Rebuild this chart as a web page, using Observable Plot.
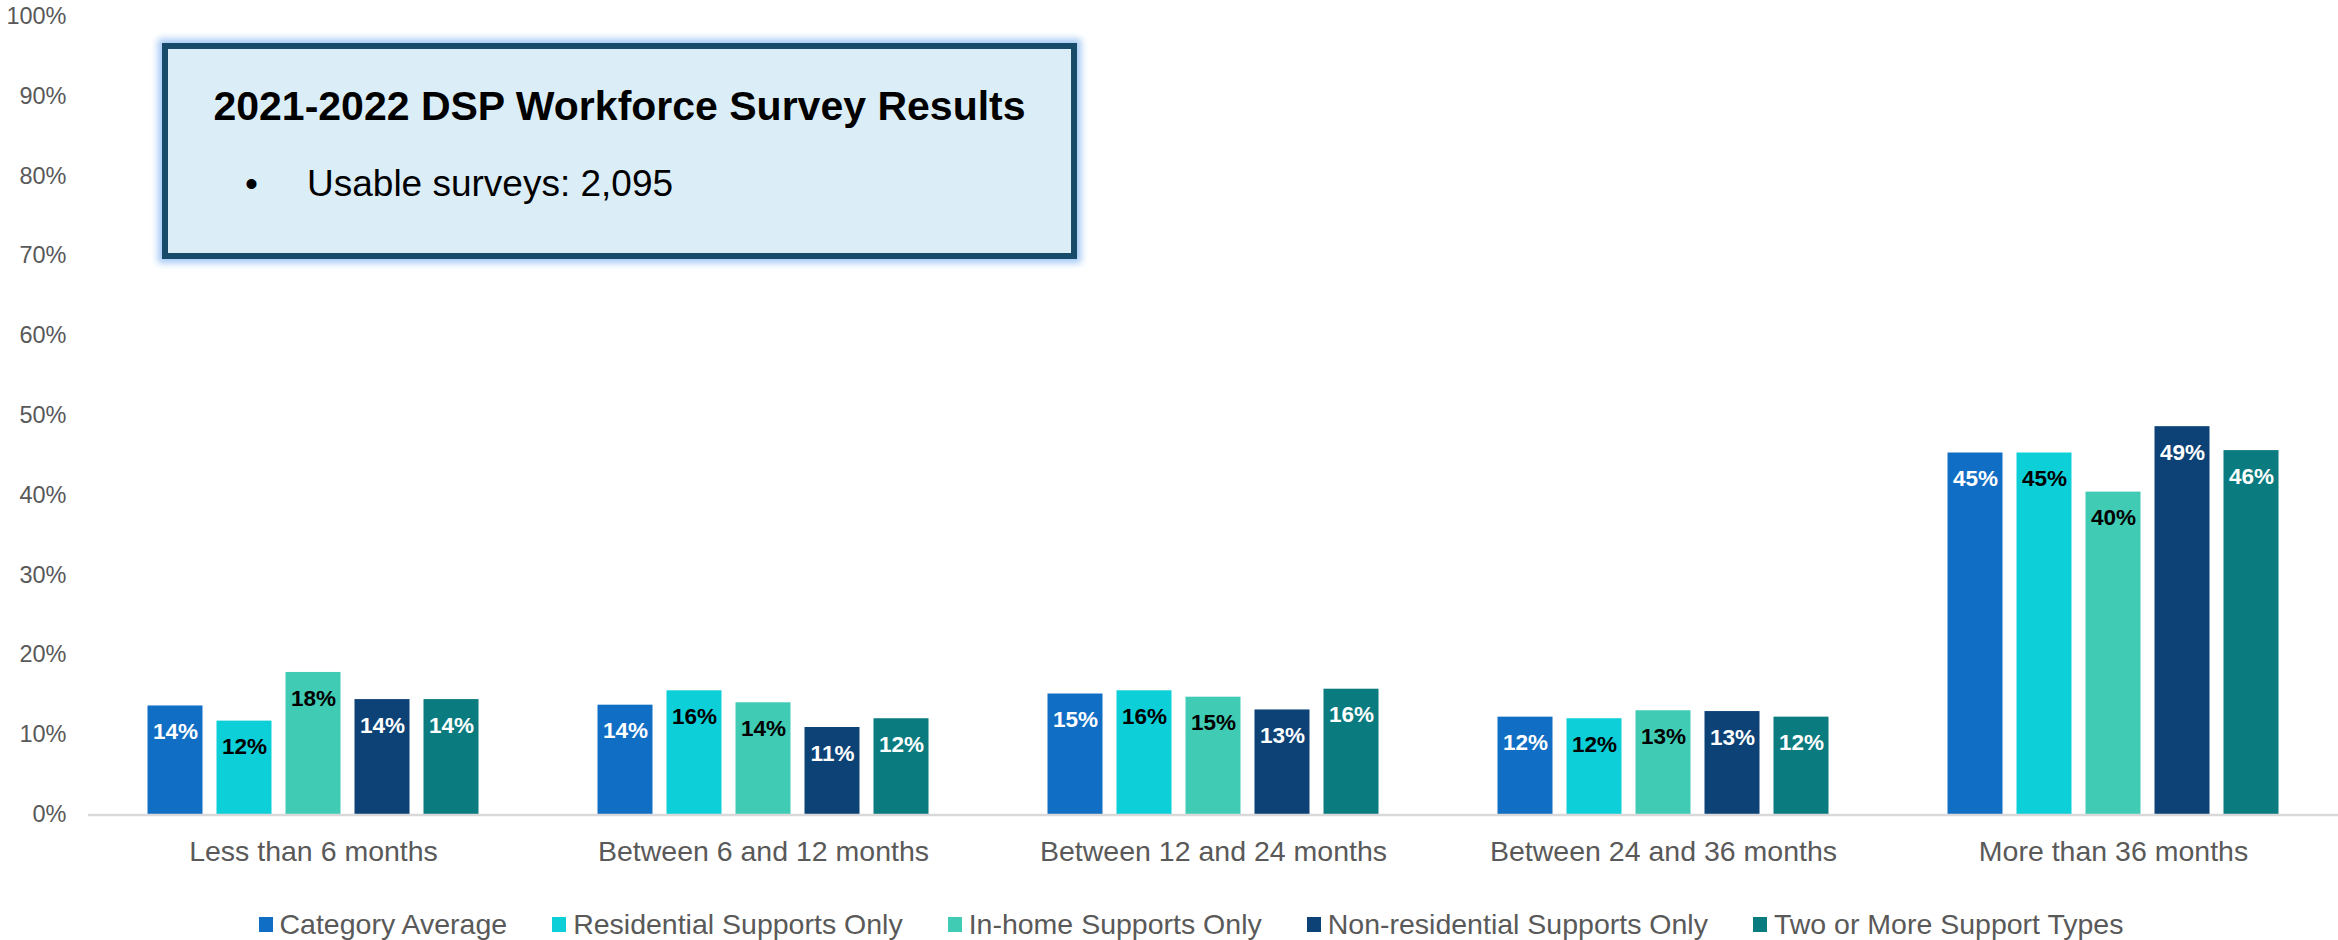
<!DOCTYPE html>
<html>
<head>
<meta charset="utf-8">
<script src="https://cdn.jsdelivr.net/npm/d3@7"></script>
<script src="https://cdn.jsdelivr.net/npm/@observablehq/plot@0.6"></script>
<style>
  html, body { margin: 0; padding: 0; background: #ffffff; }
  #wrap { position: relative; width: 2338px; height: 940px; overflow: hidden; font-family: "Liberation Sans", Arial, sans-serif; }
  #chart { position: absolute; left: 0; top: 0; }
  #box { position: absolute; left: 162px; top: 43px; width: 915px; height: 216px; box-sizing: border-box;
         border: 6px solid #174B69; background: #DBEEF8; box-shadow: 0 0 7px 4px #A3C8F5; }
  #box .title { position: absolute; left: 0; right: 0; top: 37px; text-align: center; font-weight: bold; font-size: 41px; line-height: 1; color: #000; white-space: nowrap; }
  #box .bullet { position: absolute; left: 77px; top: 116px; font-size: 37px; line-height: 1; color: #000; }
  #box .line { position: absolute; left: 139px; top: 116px; font-size: 37px; line-height: 1; color: #000; white-space: nowrap; }
  #legend { position: absolute; left: 0; width: 2382px; top: 908px; height: 32px; display: flex; justify-content: center; align-items: center; gap: 45px; }
  #legend .item { display: flex; align-items: center; font-size: 28.5px; color: #595959; white-space: nowrap; }
  #legend .sw { width: 14px; height: 15px; margin-right: 7px; }
</style>
</head>
<body>
<div id="wrap">
  <div id="chart"></div>
  <div id="box">
    <div class="title"></div>
    <div class="bullet">•</div>
    <div class="line"></div>
  </div>
  <div id="legend"></div>
</div>
<script>
const titleText = "2021-2022 DSP Workforce Survey Results";
const bulletText = "Usable surveys: 2,095";

const categories = ["Less than 6 months", "Between 6 and 12 months", "Between 12 and 24 months", "Between 24 and 36 months", "More than 36 months"];
const series = ["Category Average", "Residential Supports Only", "In-home Supports Only", "Non-residential Supports Only", "Two or More Support Types"];
const colors = ["#106EC4", "#0CCFD8", "#40CCB4", "#0C4276", "#0A7B7F"];
const labelColors = ["#ffffff", "#000000", "#000000", "#ffffff", "#ffffff"];

const categoryAverage = [13.6, 13.7, 15.1, 12.2, 45.3];
const residentialOnly = [11.7, 15.5, 15.5, 12.0, 45.3];
const inHomeOnly = [17.8, 14.0, 14.7, 13.0, 40.4];
const nonResidentialOnly = [14.4, 10.9, 13.1, 12.9, 48.6];
const twoOrMore = [14.4, 12.0, 15.7, 12.2, 45.6];

const yTicks = [0, 10, 20, 30, 40, 50, 60, 70, 80, 90, 100];

const seriesValues = [categoryAverage, residentialOnly, inHomeOnly, nonResidentialOnly, twoOrMore];
const data = [];
categories.forEach((c, ci) => {
  series.forEach((s, si) => {
    data.push({category: c, series: s, value: seriesValues[si][ci], labelColor: labelColors[si]});
  });
});

const plot = Plot.plot({
  width: 2338,
  height: 880,
  marginTop: 16,
  marginBottom: 66,
  marginLeft: 88,
  marginRight: 0,
  style: {fontFamily: "'Liberation Sans', Arial, sans-serif", background: "transparent"},
  fx: {domain: categories, paddingInner: 0.23333, paddingOuter: 0.116667, round: false, label: null},
  x: {domain: series, paddingInner: 14 / 69, paddingOuter: 7 / 69, round: false, axis: null},
  y: {domain: [0, 100], label: null},
  color: {domain: series, range: colors},
  marks: [
    Plot.axisY({ticks: yTicks, tickSize: 0, tickPadding: 74.5, tickFormat: d => d + "%", fontSize: 23.5, color: "#595959", label: null}),
    Plot.axisFx({anchor: "bottom", tickSize: 0, tickPadding: 26, fontSize: 28.5, color: "#595959", label: null}),
    Plot.barY(data, {fx: "category", x: "series", y: "value", fill: "series"}),
    Plot.text(data, {fx: "category", x: "series", y: "value", text: d => Math.round(d.value) + "%", fill: "labelColor", dy: 26, fontSize: 22.5, fontWeight: "bold"})
  ]
});
document.getElementById("chart").appendChild(plot);

// baseline spanning the full category axis, taken from the plot's own scales
const fxs = plot.scale("fx");
const ys = plot.scale("y");
const y0 = ys.apply(0);
d3.select(plot).append("line")
  .attr("x1", fxs.range[0]).attr("x2", fxs.range[1])
  .attr("y1", y0 + 1).attr("y2", y0 + 1)
  .attr("stroke", "#D9D9D9").attr("stroke-width", 2.5);

document.querySelector("#box .title").textContent = titleText;
document.querySelector("#box .line").textContent = bulletText;

const legend = document.getElementById("legend");
series.forEach((s, i) => {
  const item = document.createElement("div");
  item.className = "item";
  const sw = document.createElement("div");
  sw.className = "sw";
  sw.style.background = colors[i];
  const t = document.createElement("span");
  t.textContent = s;
  item.appendChild(sw);
  item.appendChild(t);
  legend.appendChild(item);
});
</script>
</body>
</html>
